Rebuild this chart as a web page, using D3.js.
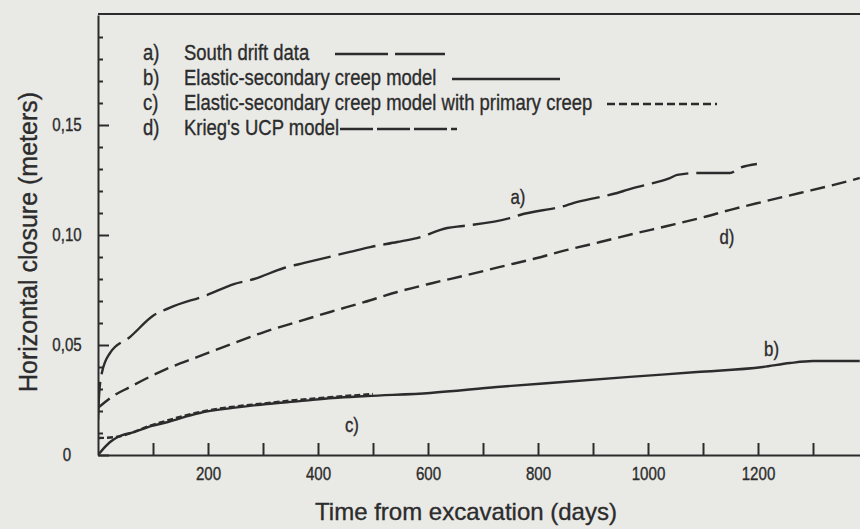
<!DOCTYPE html>
<html>
<head>
<meta charset="utf-8">
<script src="https://cdn.jsdelivr.net/npm/d3@7/dist/d3.min.js"></script>
<style>
	body { margin: 0; background: #e9e9e6; }
	svg { display: block; }
	text { stroke: #2c2c2c; stroke-width: 0.35px; }
</style>
</head>
<body>
<svg width="860" height="529"></svg>
<script>
'use strict';
// values: days since excavation -> closure (m)

// a) South drift data
const aDays = [0, 2, 7, 22, 58, 102, 129, 198, 247, 284, 338, 375, 458, 495, 544, 580, 635, 664, 749, 767, 853, 864, 913, 944, 962, 1009, 1040, 1053, 1089, 1125, 1149, 1167, 1198]
const aVals = [0.0159, 0.0273, 0.0373, 0.0464, 0.0536, 0.0636, 0.0668, 0.0727, 0.0777, 0.080, 0.085, 0.0873, 0.0923, 0.0945, 0.0968, 0.0986, 0.1032, 0.1041, 0.1077, 0.1091, 0.1136, 0.1145, 0.1173, 0.1191, 0.1205, 0.1236, 0.1259, 0.1273, 0.1282, 0.1282, 0.1282, 0.1305, 0.1323]

// b) Elastic-secondary creep model
const bDays = [0, 22, 36, 67, 98, 127, 158, 185, 245, 307, 367, 427, 489, 604, 725, 845, 967, 1089, 1209, 1258, 1300, 1385]
const bVals = [0, 0.0059, 0.0082, 0.0105, 0.0132, 0.015, 0.0173, 0.0191, 0.0214, 0.0232, 0.0245, 0.0259, 0.0268, 0.0282, 0.0309, 0.0332, 0.0355, 0.0377, 0.040, 0.0418, 0.0427, 0.0427]

// c) Elastic-secondary creep model with primary creep
const cDays = [0, 33, 98, 185, 307, 427, 500]
const cVals = [0.0077, 0.0082, 0.0136, 0.0195, 0.0236, 0.0264, 0.0277]

// d) Krieg's UCP model
const dDays = [0, 13, 25, 58, 120, 180, 253, 302, 362, 422, 484, 544, 609, 671, 731, 791, 853, 913, 973, 1035, 1095, 1155, 1216, 1276, 1336, 1385]
const dVals = [0.0214, 0.0241, 0.0264, 0.0309, 0.0386, 0.0445, 0.0514, 0.0559, 0.0605, 0.065, 0.0695, 0.0741, 0.0782, 0.0818, 0.0855, 0.0891, 0.0932, 0.0968, 0.1005, 0.1041, 0.1077, 0.1118, 0.1155, 0.1191, 0.1227, 0.1259]

const legendKeys = ["a)", "b)", "c)", "d)"]
const legendLabels = ["South drift data", "Elastic-secondary creep model",
	"Elastic-secondary creep model with primary creep", "Krieg's UCP model"]

const xTickVals = d3.range(100, 1400, 100)
const yMajorVals = [0, 0.05, 0.10, 0.15]
const yMinorVals = d3.range(1, 20).map(i => i / 100)

// styling
const ink = "#2c2c2c"
const sFont = "'Liberation Sans', Arial, sans-serif"
const narrow = 0.84  // the scan uses a condensed face, squeeze a regular one

let svg = d3.select("svg")
let dLeft = 98, dRight = 868, dTop = 15, dBottom = 455

let x = d3.scaleLinear().domain([0, 1400]).range([dLeft, dRight])
let y = d3.scaleLinear().domain([0, 0.2]).range([dBottom, dTop])

// axes, ticks point inwards
let gX = svg.append("g")
	.attr("transform", `translate(0,${dBottom})`)
	.call(d3.axisBottom(x).tickValues(xTickVals)
		.tickSizeInner(-12).tickSizeOuter(0).tickPadding(12)
		.tickFormat(d => d % 200 === 0 && d <= 1200 ? d : ""))

let gY = svg.append("g")
	.attr("transform", `translate(${dLeft},0)`)
	.call(d3.axisLeft(y).tickValues(yMajorVals)
		.tickSizeInner(-11).tickSizeOuter(0)
		.tickFormat(d => d === 0 ? "0" : d3.format(".2f")(d).replace(".", ",")))

let gYMinor = svg.append("g")
	.attr("transform", `translate(${dLeft},0)`)
	.call(d3.axisLeft(y).tickValues(yMinorVals.filter(v => Math.round(v * 100) % 5 !== 0))
		.tickSizeInner(-5).tickSizeOuter(0).tickFormat(""))
gYMinor.select(".domain").remove()

for (let g of [gX, gY, gYMinor]) {
	g.selectAll("path, line").attr("stroke", ink).attr("stroke-width", 2)
	g.selectAll("text").attr("fill", ink).attr("font-family", sFont)}

gX.selectAll("text").attr("font-size", 18).attr("transform", `scale(${narrow},1)`)
gY.selectAll("text").attr("font-size", 18)
	.attr("text-anchor", "middle").attr("x", -31 / narrow)
	.attr("transform", `scale(${narrow},1)`)

// top border of the frame
svg.append("line")
	.attr("x1", dLeft).attr("x2", 860).attr("y1", dTop - 1).attr("y2", dTop - 1)
	.attr("stroke", ink).attr("stroke-width", 2)

// axis titles
svg.append("text")
	.attr("x", 466).attr("y", 520)
	.attr("text-anchor", "middle").attr("font-family", sFont).attr("font-size", 24)
	.attr("fill", ink).text("Time from excavation (days)")

svg.append("text")
	.attr("transform", "translate(37,242) rotate(-90)")
	.attr("text-anchor", "middle").attr("font-family", sFont).attr("font-size", 25)
	.attr("fill", ink).text("Horizontal closure (meters)")

// curves
let series = [
	{days: aDays, vals: aVals, dash: "38,8"},
	{days: bDays, vals: bVals, dash: null},
	{days: cDays, vals: cVals, dash: "6,3"},
	{days: dDays, vals: dVals, dash: "15,7"}]

let line = d3.line()
	.x(p => x(p[0])).y(p => y(p[1]))
	.curve(d3.curveMonotoneX)

svg.append("clipPath").attr("id", "plot")
	.append("rect").attr("x", dLeft).attr("y", dTop)
	.attr("width", dRight - dLeft).attr("height", dBottom - dTop)

svg.append("g").attr("clip-path", "url(#plot)")
	.selectAll("path")
	.data(series)
	.join("path")
	.attr("d", s => line(d3.zip(s.days, s.vals)))
	.attr("fill", "none").attr("stroke", ink).attr("stroke-width", 2.4)
	.attr("stroke-dasharray", s => s.dash)

// legend
let legendLine = [
	{x1: 335, x2: 445, dash: "53,7"},
	{x1: 452, x2: 560, dash: null},
	{x1: 607, x2: 717, dash: "8,4"},
	{x1: 340, x2: 457, dash: "33,4"}]
let dRow0 = 60, dRowGap = 25

let eLegend = svg.append("g").selectAll("g")
	.data(legendKeys)
	.join("g")
	.attr("transform", (_d, i) => `translate(0,${dRow0 + i * dRowGap})`)

eLegend.append("text")
	.attr("transform", `translate(143,0) scale(${narrow},1)`)
	.attr("font-family", sFont).attr("font-size", 22).attr("fill", ink)
	.text(d => d)
eLegend.append("text")
	.attr("transform", `translate(184,0) scale(${narrow},1)`)
	.attr("font-family", sFont).attr("font-size", 22).attr("fill", ink)
	.text((_d, i) => legendLabels[i])
eLegend.append("line")
	.attr("x1", (_d, i) => legendLine[i].x1).attr("x2", (_d, i) => legendLine[i].x2)
	.attr("y1", -6).attr("y2", -6)
	.attr("stroke", ink).attr("stroke-width", 2.4)
	.attr("stroke-dasharray", (_d, i) => legendLine[i].dash)

// curve tags
let tags = [
	{k: "a)", day: 750, v: 0.114},
	{k: "b)", day: 1211, v: 0.045},
	{k: "c)", day: 449, v: 0.0105},
	{k: "d)", day: 1130, v: 0.096}]
svg.append("g").selectAll("text")
	.data(tags)
	.join("text")
	.attr("transform", t => `translate(${x(t.day)},${y(t.v)}) scale(${narrow},1)`)
	.attr("font-family", sFont).attr("font-size", 20).attr("fill", ink)
	.text(t => t.k)
</script>
</body>
</html>
